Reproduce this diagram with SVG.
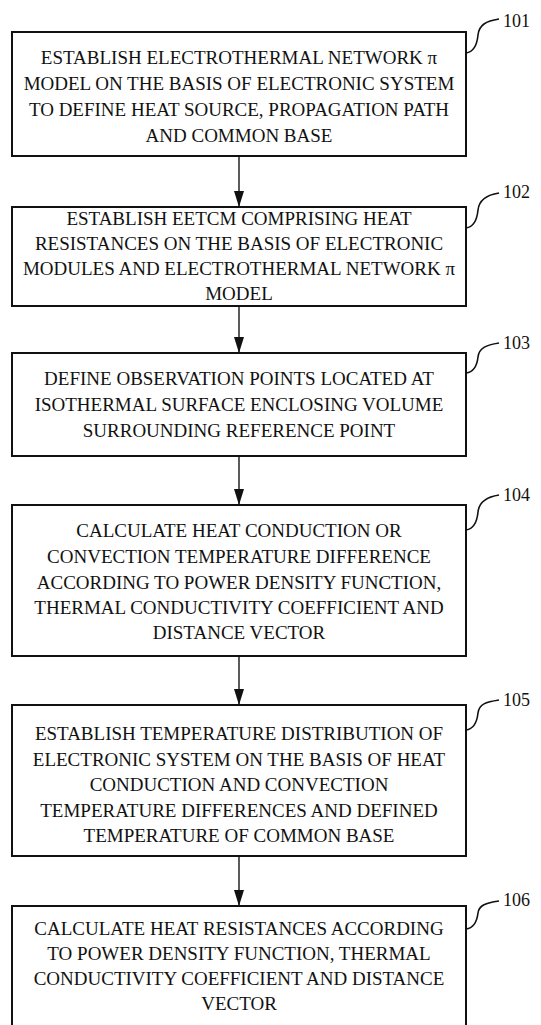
<svg xmlns="http://www.w3.org/2000/svg" width="541" height="1025" viewBox="0 0 541 1025">
<style>
.box{fill:#fff;stroke:#111;stroke-width:2}
.t{font-family:"Liberation Serif","Times New Roman",serif;font-size:19px;fill:#111;text-anchor:middle}
.lbl{font-family:"Liberation Serif","Times New Roman",serif;font-size:18px;fill:#111}
.sq{fill:none;stroke:#111;stroke-width:1.6}
.conn{stroke:#333;stroke-width:1.6;fill:none}
</style>
<defs>
<marker id="ah" markerUnits="userSpaceOnUse" markerWidth="16" markerHeight="10" refX="16" refY="5" orient="auto">
<path d="M0,0 L16,5 L0,10 z" fill="#111"/>
</marker>
</defs>
<rect width="541" height="1025" fill="#fff"/>
<g id="connectors">
<line class="conn" x1="239" y1="156" x2="239" y2="207" marker-end="url(#ah)"/>
<line class="conn" x1="239" y1="306" x2="239" y2="353" marker-end="url(#ah)"/>
<line class="conn" x1="239" y1="456" x2="239" y2="505" marker-end="url(#ah)"/>
<line class="conn" x1="239" y1="656" x2="239" y2="705" marker-end="url(#ah)"/>
<line class="conn" x1="239" y1="856" x2="239" y2="906" marker-end="url(#ah)"/>
</g>
<g id="n101">
<rect class="box" x="12" y="32" width="454" height="124"/>
<text class="t" x="239" y="64">ESTABLISH ELECTROTHERMAL NETWORK π</text>
<text class="t" x="239" y="90">MODEL ON THE BASIS OF ELECTRONIC SYSTEM</text>
<text class="t" x="239" y="116">TO DEFINE HEAT SOURCE, PROPAGATION PATH</text>
<text class="t" x="239" y="142">AND COMMON BASE</text>
<path class="sq" d="M466,53 C474,52 477,45 478,35 C479,25 486,21 499,19"/>
<text class="lbl" x="503" y="27">101</text>
</g>
<g id="n102">
<rect class="box" x="12" y="207" width="454" height="99"/>
<text class="t" x="239" y="225">ESTABLISH EETCM COMPRISING HEAT</text>
<text class="t" x="239" y="250">RESISTANCES ON THE BASIS OF ELECTRONIC</text>
<text class="t" x="239" y="275">MODULES AND ELECTROTHERMAL NETWORK π</text>
<text class="t" x="239" y="300">MODEL</text>
<path class="sq" d="M466,228 C474,227 477,220 478,210 C479,200 486,195 499,193"/>
<text class="lbl" x="503" y="198">102</text>
</g>
<g id="n103">
<rect class="box" x="12" y="353" width="454" height="103"/>
<text class="t" x="239" y="385">DEFINE OBSERVATION POINTS LOCATED AT</text>
<text class="t" x="239" y="411">ISOTHERMAL SURFACE ENCLOSING VOLUME</text>
<text class="t" x="239" y="437">SURROUNDING REFERENCE POINT</text>
<path class="sq" d="M466,373 C474,372 477,366 478,357 C479,348 486,345 499,343"/>
<text class="lbl" x="503" y="349">103</text>
</g>
<g id="n104">
<rect class="box" x="12" y="505" width="454" height="151"/>
<text class="t" x="239" y="537">CALCULATE HEAT CONDUCTION OR</text>
<text class="t" x="239" y="563">CONVECTION TEMPERATURE DIFFERENCE</text>
<text class="t" x="239" y="589">ACCORDING TO POWER DENSITY FUNCTION,</text>
<text class="t" x="239" y="614">THERMAL CONDUCTIVITY COEFFICIENT AND</text>
<text class="t" x="239" y="639">DISTANCE VECTOR</text>
<path class="sq" d="M466,530 C474,529 477,522 478,512 C479,502 486,497 499,495"/>
<text class="lbl" x="503" y="501">104</text>
</g>
<g id="n105">
<rect class="box" x="12" y="705" width="454" height="151"/>
<text class="t" x="239" y="740">ESTABLISH TEMPERATURE DISTRIBUTION OF</text>
<text class="t" x="239" y="766">ELECTRONIC SYSTEM ON THE BASIS OF HEAT</text>
<text class="t" x="239" y="791">CONDUCTION AND CONVECTION</text>
<text class="t" x="239" y="817">TEMPERATURE DIFFERENCES AND DEFINED</text>
<text class="t" x="239" y="842">TEMPERATURE OF COMMON BASE</text>
<path class="sq" d="M466,730 C474,729 477,722 478,713 C479,704 486,702 499,700"/>
<text class="lbl" x="503" y="706">105</text>
</g>
<g id="n106">
<rect class="box" x="12" y="906" width="454" height="130"/>
<text class="t" x="239" y="935">CALCULATE HEAT RESISTANCES ACCORDING</text>
<text class="t" x="239" y="960">TO POWER DENSITY FUNCTION, THERMAL</text>
<text class="t" x="239" y="985">CONDUCTIVITY COEFFICIENT AND DISTANCE</text>
<text class="t" x="239" y="1010">VECTOR</text>
<path class="sq" d="M466,929 C474,928 477,921 478,913 C479,905 486,903 499,901"/>
<text class="lbl" x="503" y="906">106</text>
</g>
</svg>
